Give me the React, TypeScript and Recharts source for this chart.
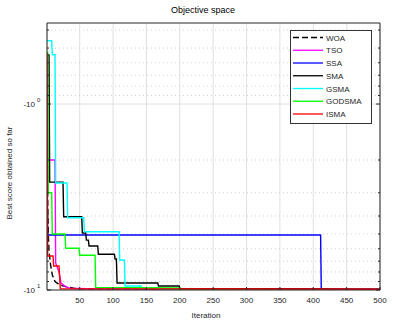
import React from 'react';
import { LineChart, Line, XAxis, YAxis, CartesianGrid, ReferenceLine, Legend } from 'recharts';

// iteration ticks and score ticks (scores are negative, axis shows |score| on log)
const iterTicks = [50, 100, 150, 200, 250, 300, 350, 400, 450, 500];
const majorScores = [-1, -10];
const minorScores = [-0.4, -0.5, -0.6, -0.7, -0.8, -0.9, -2, -3, -4, -5, -6, -7, -8, -9];

// [iteration, best score so far]
const WOA: [number, number][] = [
  [1, -0.55], [2, -3.2], [3, -5.0], [4, -6.1], [6, -7.2], [9, -8.3], [13, -9.0],
  [20, -9.4], [30, -9.6], [45, -9.85], [500, -9.93],
];
const TSO: [number, number][] = [
  [1, -0.6], [2, -2.0], [13, -2.0], [14, -7.16], [19, -8.0], [22, -9.17], [29, -9.6],
  [35, -9.77], [60, -9.85], [500, -9.9],
];
const SSA: [number, number][] = [
  [1, -3.0], [2, -5.06], [411, -5.06], [412, -9.98], [500, -9.98],
];
const SMA: [number, number][] = [
  [1, -0.545], [4, -0.545], [5, -2.63], [25, -2.63], [26, -4.04], [53, -4.04], [54, -4.94],
  [59, -4.94], [60, -5.39], [63, -5.39], [64, -5.8], [77, -5.8], [78, -6.42], [102, -6.42],
  [103, -6.81], [105, -6.81], [106, -9.17], [167, -9.17], [168, -9.51], [199, -9.51],
  [200, -9.83], [500, -9.9],
];
const GSMA: [number, number][] = [
  [1, -0.457], [8, -0.457], [9, -0.543], [13, -0.543], [14, -2.66], [31, -2.66], [32, -4.09],
  [56, -4.09], [57, -4.86], [109, -4.86], [110, -6.9], [117, -6.9], [118, -9.51], [142, -9.51],
  [143, -9.76], [170, -9.76], [171, -9.95], [500, -9.97],
];
const GODSMA: [number, number][] = [
  [1, -0.526], [2, -0.526], [3, -3.0], [8, -3.0], [9, -5.0], [28, -5.0], [29, -5.96],
  [49, -5.96], [50, -6.5], [73, -6.5], [74, -9.7], [200, -9.75], [201, -9.92], [500, -9.95],
];
const ISMA: [number, number][] = [
  [1, -0.532], [2, -6.57], [10, -6.57], [11, -7.43], [19, -7.43], [21, -9.85], [500, -9.9],
];

const series = [
  { name: 'WOA', color: '#000000', dash: '6 3', points: WOA },
  { name: 'TSO', color: '#ff00ff', dash: undefined, points: TSO },
  { name: 'SSA', color: '#0000ff', dash: undefined, points: SSA },
  { name: 'SMA', color: '#000000', dash: undefined, points: SMA },
  { name: 'GSMA', color: '#00ffff', dash: undefined, points: GSMA },
  { name: 'GODSMA', color: '#00ff00', dash: undefined, points: GODSMA },
  { name: 'ISMA', color: '#ff0000', dash: undefined, points: ISMA },
];

const FONT = 'Liberation Sans, Arial, Helvetica, sans-serif';
const AXIS = '#262626';
const isMajor = (m: number) => majorScores.some((s) => Math.abs(-s - m) < 1e-9);

const LeftTick = (props: any) => {
  const { x, y, payload } = props;
  const m = payload.value;
  const major = isMajor(m);
  return (
    <g>
      <line x1={x} x2={x + (major ? 4 : 2)} y1={y} y2={y} stroke={AXIS} />
      {major && (
        <>
          <text x={x - 12} y={y + 3} textAnchor="end" fontSize={8} fill={AXIS} fontFamily={FONT}>-10</text>
          <text x={x - 10} y={y - 2} fontSize={6} fill={AXIS} fontFamily={FONT}>{Math.round(Math.log10(m))}</text>
        </>
      )}
    </g>
  );
};

const RightTick = (props: any) => {
  const { x, y, payload } = props;
  const major = isMajor(payload.value);
  return <line x1={x - (major ? 4 : 2)} x2={x} y1={y} y2={y} stroke={AXIS} />;
};

const BottomTick = (props: any) => {
  const { x, y, payload } = props;
  return (
    <g>
      <line x1={x} x2={x} y1={y} y2={y - 3} stroke={AXIS} />
      <text x={x} y={y + 13} textAnchor="middle" fontSize={8} fill={AXIS} fontFamily={FONT}>{payload.value}</text>
    </g>
  );
};

const TopTick = (props: any) => {
  const { x, y } = props;
  return <line x1={x} x2={x} y1={y} y2={y + 3} stroke={AXIS} />;
};

const LegendBox = () => (
  <svg width={82} height={94} style={{ display: 'block' }}>
    <rect x={0.5} y={0.5} width={81} height={93} fill="#ffffff" stroke="#333333" />
    {series.map((s, i) => {
      const cy = 7.5 + i * 12.75;
      return (
        <g key={s.name}>
          <line x1={3} x2={33} y1={cy} y2={cy} stroke={s.color} strokeWidth={1.3} strokeDasharray={s.dash} />
          <text x={36} y={cy + 3} fontSize={8} fill={AXIS} fontFamily={FONT}>{s.name}</text>
        </g>
      );
    })}
  </svg>
);

export default function App() {
  return (
    <div style={{ position: 'fixed', left: 0, top: 0, width: 398, height: 327, background: '#ffffff' }}>
      <LineChart width={398} height={327} margin={{ top: 0, right: 0, bottom: 0, left: 0 }}>
        <CartesianGrid xAxisId="bottom" yAxisId="left" horizontal={false} stroke="#e0e0e0" />
        <XAxis
          xAxisId="bottom"
          dataKey="it"
          type="number"
          domain={[1, 500]}
          ticks={iterTicks}
          interval={0}
          height={37}
          tickSize={0}
          tickMargin={0}
          tickLine={false}
          tick={<BottomTick />}
          axisLine={{ stroke: AXIS }}
          allowDataOverflow
        />
        <XAxis
          xAxisId="top"
          orientation="top"
          type="number"
          domain={[1, 500]}
          ticks={iterTicks}
          interval={0}
          height={23}
          tickSize={0}
          tickMargin={0}
          tickLine={false}
          tick={<TopTick />}
          axisLine={{ stroke: AXIS }}
          allowDataOverflow
        />
        <YAxis
          yAxisId="left"
          dataKey="mag"
          type="number"
          scale="log"
          reversed
          domain={[0.3667, 10]}
          ticks={[...minorScores, ...majorScores].map((s) => -s)}
          interval={0}
          width={47}
          tickSize={0}
          tickMargin={0}
          tickLine={false}
          tick={<LeftTick />}
          axisLine={{ stroke: AXIS }}
          allowDataOverflow
        />
        <YAxis
          yAxisId="right"
          orientation="right"
          type="number"
          scale="log"
          reversed
          domain={[0.3667, 10]}
          ticks={[...minorScores, ...majorScores].map((s) => -s)}
          interval={0}
          width={18}
          tickSize={0}
          tickMargin={0}
          tickLine={false}
          tick={<RightTick />}
          axisLine={{ stroke: AXIS }}
          allowDataOverflow
        />
        {minorScores.map((s) => (
          <ReferenceLine key={s} xAxisId="bottom" yAxisId="left" y={-s} stroke="#cfcfcf" strokeDasharray="1 3" />
        ))}
        <ReferenceLine xAxisId="bottom" yAxisId="left" y={1} stroke="#e0e0e0" />
        {series.map((s) => (
          <Line
            key={s.name}
            xAxisId="bottom"
            yAxisId="left"
            name={s.name}
            data={s.points.map(([it, score]) => ({ it, mag: -score }))}
            dataKey="mag"
            type="linear"
            stroke={s.color}
            strokeWidth={1.4}
            strokeDasharray={s.dash}
            dot={false}
            activeDot={false}
            isAnimationActive={false}
          />
        ))}
        <Legend
          layout="vertical"
          align="center"
          verticalAlign="middle"
          content={() => <LegendBox />}
          wrapperStyle={{ left: 290, top: 30, width: 82, height: 94 }}
        />
        <text x={203} y={13} textAnchor="middle" fontSize={9} fill="#000000" fontFamily={FONT}>Objective space</text>
        <text x={206} y={318} textAnchor="middle" fontSize={8} fill={AXIS} fontFamily={FONT}>Iteration</text>
        <text
          x={12}
          y={173}
          textAnchor="middle"
          fontSize={8}
          fill={AXIS}
          fontFamily={FONT}
          transform="rotate(-90 12 173)"
        >
          Best score obtained so far
        </text>
      </LineChart>
    </div>
  );
}
